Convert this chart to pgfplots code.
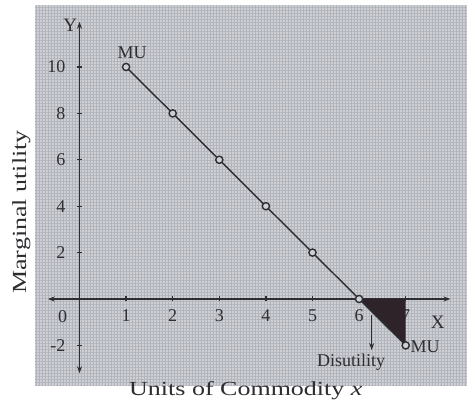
\documentclass[border=0pt]{standalone}
\usepackage{fontspec}
\setmainfont{Liberation Serif}
\newfontfamily\widefont{Liberation Serif}[FakeStretch=1.3]
\usepackage{pgfplots}
\pgfplotsset{compat=1.18}
\usetikzlibrary{calc,arrows.meta,patterns.meta}
\definecolor{panel}{RGB}{206,208,213}
\definecolor{grain}{RGB}{178,180,188}
\definecolor{ink}{RGB}{45,45,50}
\definecolor{tri}{RGB}{45,35,40}
\begin{document}
\begin{tikzpicture}
\begin{axis}[
 set layers=standard,
 x=46.6pt, y=23.2pt,
 xmin=-0.68, xmax=7.96, ymin=-3.2, ymax=11.95,
 axis lines=middle,
 axis line style={ink, line width=1.3pt},
 inner axis line style={{Stealth[length=7pt,width=5pt]}-{Stealth[length=7pt,width=5pt]}},
 clip=false,
 xtick={1,...,7}, xticklabels={1,2,3,4,5,6,7},
 ytick={-2,2,4,6,8,10}, yticklabels={-2,2,4,6,8,10},
 tick style={ink, line width=1.2pt},
 major tick length=5pt,
 tick align=center,
 ticklabel style={font=\fontsize{18}{20}\selectfont, text=ink},
 xticklabel style={yshift=-5pt},
 yticklabel style={xshift=-8pt},
]
\begin{pgfonlayer}{axis background}
\fill[panel] (axis cs:-0.955,-3.71) rectangle (axis cs:8.33,12.67);
\fill[pattern={Lines[angle=0,distance=3pt,line width=0.6pt]}, pattern color=grain] (axis cs:-0.955,-3.71) rectangle (axis cs:8.33,12.67);
\fill[pattern={Lines[angle=90,distance=3pt,line width=0.6pt]}, pattern color=grain] (axis cs:-0.955,-3.71) rectangle (axis cs:8.33,12.67);
\end{pgfonlayer}
\coordinate (O) at (axis cs:0,0);
\addplot[draw=none, fill=tri] coordinates {(6,0) (7,0) (7,-2)} -- cycle;
\addplot[ink, line width=1.4pt, mark=*, mark size=3.6pt,
  mark options={draw=ink, fill=panel, line width=1.4pt}]
  coordinates {(1,10) (2,8) (3,6) (4,4) (5,2) (6,0) (7,-2)};
\draw[ink, line width=1.2pt, -{Stealth[length=7pt,width=5pt]}] (axis cs:6.27,-0.7) -- (axis cs:6.27,-2.2);
\node[font=\fontsize{18}{20}\selectfont, text=ink, anchor=north east, inner sep=0pt] at (axis cs:-0.26,-0.5) {0};
\node[font=\fontsize{19}{20}\selectfont, text=ink] at (axis cs:-0.2,11.8) {Y};
\node[font=\fontsize{19}{20}\selectfont, text=ink] at (axis cs:7.69,-1.0) {X};
\node[font=\fontsize{18}{20}\selectfont, text=ink] at (axis cs:1.13,10.6) {MU};
\node[font=\fontsize{18}{20}\selectfont, text=ink, anchor=west, inner sep=0pt] at (axis cs:7.1,-2.05) {MU};
\node[font=\fontsize{18}{20}\selectfont, text=ink] at (axis cs:5.83,-2.72) {Disutility};
\node[font=\widefont\fontsize{20}{22}\selectfont, text=ink] at (axis cs:3.57,-3.95) {Units of Commodity \textit{x}};
\node[font=\widefont\fontsize{20}{22}\selectfont, text=ink, rotate=90] at (axis cs:-1.25,3.75) {Marginal utility};
\end{axis}
\pgfresetboundingbox
\path ($(O)+(-79.5pt,-116pt)$) rectangle ($(O)+(387.5pt,299pt)$);
\end{tikzpicture}
\end{document}
